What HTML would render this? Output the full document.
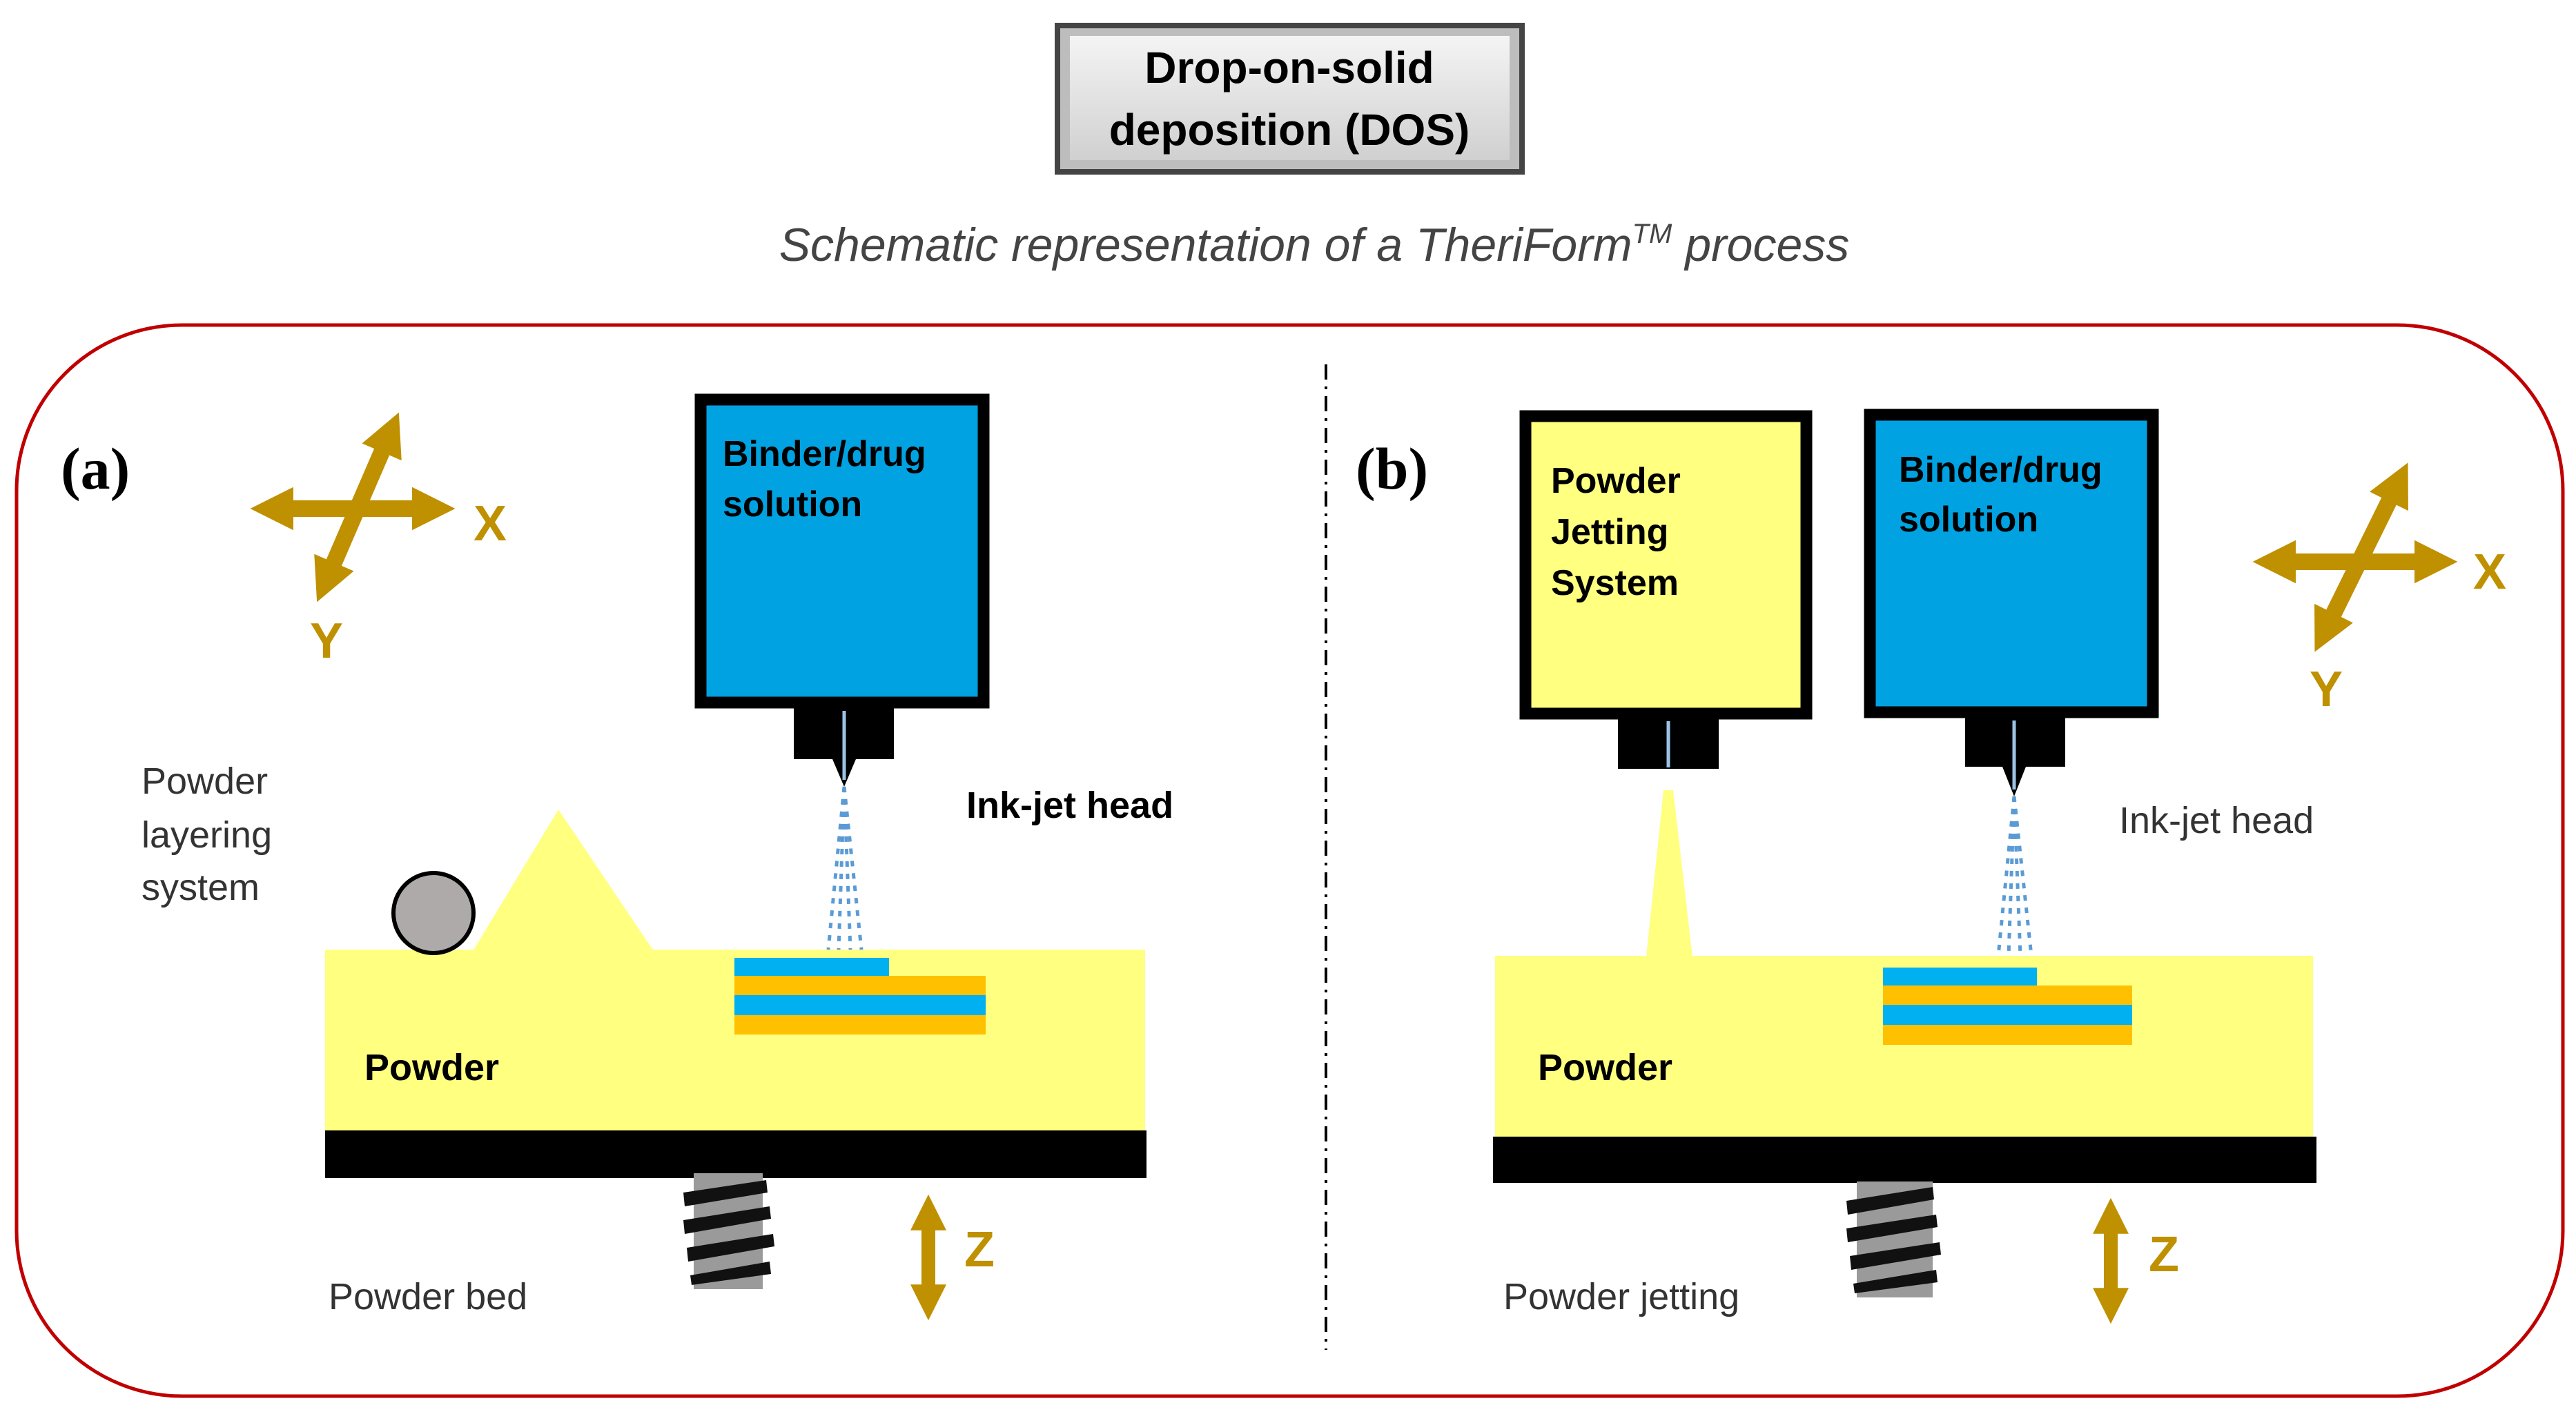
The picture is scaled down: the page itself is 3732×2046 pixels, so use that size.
<!DOCTYPE html>
<html><head><meta charset="utf-8"><style>
html,body{margin:0;padding:0;background:#fff;}
svg{display:block}
</style></head><body>
<svg width="3732" height="2046" viewBox="0 0 3732 2046" xmlns="http://www.w3.org/2000/svg">
<defs>
<marker id="ah" viewBox="0 0 10 10" refX="4" refY="5" markerWidth="2.6" markerHeight="2.8" orient="auto-start-reverse" markerUnits="strokeWidth">
<path d="M0,0 L10,5 L0,10 z" fill="#bf9000"/></marker>
<linearGradient id="tb" x1="0" y1="0" x2="0" y2="1"><stop offset="0" stop-color="#f4f4f4"/><stop offset="1" stop-color="#d0d0d0"/></linearGradient>
</defs>
<!-- title box -->
<rect x="1528" y="33" width="681" height="220" fill="#444"/>
<rect x="1536" y="41" width="665" height="204" fill="#bdbdbd"/>
<rect x="1550" y="52" width="637" height="180" fill="url(#tb)"/>
<g font-family="Liberation Sans, sans-serif" font-weight="bold" font-size="64" text-anchor="middle" fill="#000">
<text x="1868" y="120">Drop-on-solid</text>
<text x="1868" y="210">deposition (DOS)</text>
</g>
<text x="1904" y="378" text-anchor="middle" font-family="Liberation Sans, sans-serif" font-style="italic" font-size="68" fill="#444">Schematic representation of a TheriForm<tspan font-size="40" dy="-26">TM</tspan><tspan dy="26"> process</tspan></text>
<!-- outer red frame -->
<rect x="24" y="471" width="3689" height="1552" rx="240" ry="240" fill="none" stroke="#c00000" stroke-width="5"/>
<line x1="1921" y1="528" x2="1921" y2="1956" stroke="#000" stroke-width="4" stroke-dasharray="22,10,4,10"/>

<g font-family="Liberation Serif, serif" font-weight="bold" font-size="86" fill="#000">
<text x="88" y="708">(a)</text>
<text x="1964" y="708">(b)</text>
</g>

<!-- XY crosses -->
<g stroke="#bf9000" stroke-width="24" marker-start="url(#ah)" marker-end="url(#ah)">
<line x1="400" y1="737" x2="622" y2="737"/>
<line x1="563" y1="632" x2="474" y2="838"/>
<line x1="3301" y1="814" x2="3523" y2="814"/>
<line x1="3472" y1="704" x2="3370" y2="911"/>
</g>
<g stroke="#bf9000" stroke-width="20" marker-start="url(#ah)" marker-end="url(#ah)">
<line x1="1345" y1="1762" x2="1345" y2="1882"/>
<line x1="3058" y1="1767" x2="3058" y2="1887"/>
</g>
<g font-family="Liberation Sans, sans-serif" font-weight="bold" font-size="72" fill="#bf9000">
<text x="686" y="783">X</text>
<text x="449" y="953">Y</text>
<text x="3583" y="853">X</text>
<text x="3346" y="1023">Y</text>
<text x="1397" y="1835">Z</text>
<text x="3113" y="1842">Z</text>
</g>

<!-- (a) ink-jet box -->
<rect x="1015" y="579" width="410" height="439" fill="#00a2e2" stroke="#000" stroke-width="17"/>
<path d="M1150,1026 H1295 V1100 L1240,1100 L1223,1140 L1206,1100 L1150,1100 Z" fill="#000"/>
<line x1="1223" y1="1030" x2="1223" y2="1130" stroke="#9cc3e6" stroke-width="5"/>
<g stroke="#5b9bd5" stroke-width="5" stroke-dasharray="8,10" fill="none">
<line x1="1223" y1="1140" x2="1200" y2="1376"/>
<line x1="1223" y1="1140" x2="1215" y2="1376"/>
<line x1="1223" y1="1140" x2="1232" y2="1376"/>
<line x1="1223" y1="1140" x2="1248" y2="1376"/>
</g>
<g font-family="Liberation Sans, sans-serif" font-weight="bold" font-size="52" fill="#000">
<text x="1047" y="675">Binder/drug</text>
<text x="1047" y="748">solution</text>
</g>
<text x="1400" y="1185" font-family="Liberation Sans, sans-serif" font-weight="bold" font-size="54" fill="#000">Ink-jet head</text>
<g font-family="Liberation Sans, sans-serif" font-size="54" fill="#333">
<text x="205" y="1150">Powder</text>
<text x="205" y="1228">layering</text>
<text x="205" y="1304">system</text>
<text x="476" y="1897">Powder bed</text>
<text x="2178" y="1897">Powder jetting</text>
<text x="3070" y="1207">Ink-jet head</text>
</g>
<!-- (a) powder -->
<rect x="471" y="1376" width="1188" height="262" fill="#ffff80"/>
<polygon points="685,1378 809,1173 947,1378" fill="#ffff80"/>
<circle cx="628" cy="1323" r="58" fill="#aeaaaa" stroke="#000" stroke-width="6"/>
<rect x="471" y="1638" width="1190" height="69" fill="#000"/>
<rect x="1064" y="1388" width="224" height="26" fill="#00b0f0"/>
<rect x="1064" y="1414" width="364" height="28" fill="#ffc000"/>
<rect x="1064" y="1442" width="364" height="29" fill="#00b0f0"/>
<rect x="1064" y="1471" width="364" height="28" fill="#ffc000"/>
<text x="528" y="1565" font-family="Liberation Sans, sans-serif" font-weight="bold" font-size="54" fill="#000">Powder</text>
<!-- screw a -->
<g>
<rect x="1005" y="1700" width="100" height="168" fill="#9a9a9a"/>
<path d="M990,1728 L1110,1710 L1112,1728 L992,1748 Z M990,1768 L1115,1748 L1117,1766 L992,1788 Z M995,1808 L1120,1788 L1122,1806 L997,1828 Z M1000,1848 L1115,1828 L1117,1846 L1002,1862 Z" fill="#111"/>
</g>

<!-- (b) boxes -->
<rect x="2210" y="603" width="407" height="431" fill="#ffff80" stroke="#000" stroke-width="17"/>
<rect x="2344" y="1042" width="146" height="72" fill="#000"/>
<line x1="2417" y1="1045" x2="2417" y2="1112" stroke="#9cc3e6" stroke-width="5"/>
<polygon points="2410,1145 2424,1145 2452,1387 2385,1387" fill="#ffff80"/>
<rect x="2709" y="601" width="410" height="431" fill="#00a2e2" stroke="#000" stroke-width="17"/>
<path d="M2847,1040 H2992 V1111 L2935,1111 L2918,1154 L2901,1111 L2847,1111 Z" fill="#000"/>
<line x1="2918" y1="1044" x2="2918" y2="1144" stroke="#9cc3e6" stroke-width="5"/>
<g stroke="#5b9bd5" stroke-width="5" stroke-dasharray="8,10" fill="none">
<line x1="2918" y1="1154" x2="2895" y2="1385"/>
<line x1="2918" y1="1154" x2="2910" y2="1385"/>
<line x1="2918" y1="1154" x2="2927" y2="1385"/>
<line x1="2918" y1="1154" x2="2943" y2="1385"/>
</g>
<g font-family="Liberation Sans, sans-serif" font-weight="bold" font-size="52" fill="#000">
<text x="2247" y="714">Powder</text>
<text x="2247" y="788">Jetting</text>
<text x="2247" y="862">System</text>
<text x="2751" y="698">Binder/drug</text>
<text x="2751" y="770">solution</text>
</g>
<rect x="2166" y="1385" width="1185" height="262" fill="#ffff80"/>
<rect x="2163" y="1647" width="1193" height="67" fill="#000"/>
<rect x="2728" y="1402" width="223" height="26" fill="#00b0f0"/>
<rect x="2728" y="1428" width="361" height="28" fill="#ffc000"/>
<rect x="2728" y="1456" width="361" height="29" fill="#00b0f0"/>
<rect x="2728" y="1485" width="361" height="29" fill="#ffc000"/>
<text x="2228" y="1565" font-family="Liberation Sans, sans-serif" font-weight="bold" font-size="54" fill="#000">Powder</text>
<g>
<rect x="2690" y="1712" width="110" height="168" fill="#9a9a9a"/>
<path d="M2675,1740 L2800,1720 L2802,1738 L2677,1760 Z M2675,1780 L2805,1760 L2807,1778 L2677,1800 Z M2680,1820 L2810,1800 L2812,1818 L2682,1840 Z M2685,1860 L2805,1840 L2807,1858 L2687,1874 Z" fill="#111"/>
</g>
</svg>
</body></html>
